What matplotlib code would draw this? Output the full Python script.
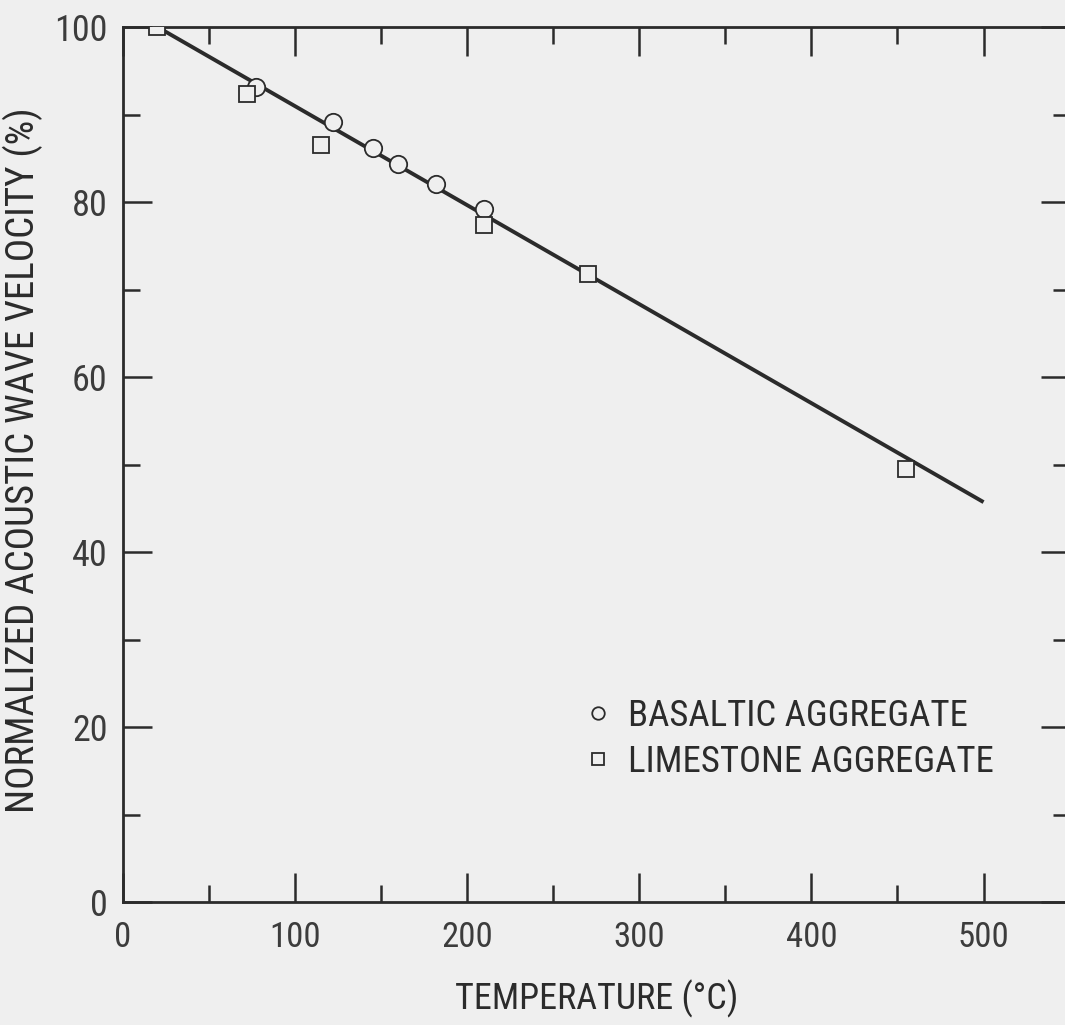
import matplotlib
matplotlib.use("Agg")
import matplotlib.pyplot as plt
from matplotlib import font_manager
from matplotlib.font_manager import FontProperties

# ---- data ----
basalt_temp = [77, 122, 145, 160, 182, 210]
basalt_vel = [93.2, 89.1, 86.2, 84.4, 82.1, 79.2]
lime_temp = [20, 72, 115, 210, 270, 455]
lime_vel = [100.0, 92.3, 86.5, 77.4, 71.8, 49.5]
fit_temp = [20, 500]
fit_vel = [100.0, 45.7]
x_ticks = [0, 100, 200, 300, 400, 500]
y_ticks = [0, 20, 40, 60, 80, 100]
x_minor = [50, 150, 250, 350, 450]
y_minor = [10, 30, 50, 70, 90]
labels = ["BASALTIC AGGREGATE", "LIMESTONE AGGREGATE"]


def pick_condensed():
    fl = font_manager.fontManager.ttflist
    prefs = ["Liberation Sans Narrow", "Roboto Condensed", "Open Sans Condensed",
             "Noto Sans Condensed", "DejaVu Sans Condensed"]
    for p in prefs:
        for f in fl:
            if f.name == p and f.weight in (400, "normal", "regular") and f.style == "normal":
                return f.fname
    for f in fl:
        if f.style != "normal":
            continue
        st = str(f.stretch)
        if ("Narrow" in f.name or "Condensed" in f.name or st in ("condensed", "semi-condensed")) \
                and "Serif" not in f.name and "Mono" not in f.name and "Bold" not in f.fname:
            return f.fname
    for f in fl:
        if "Condensed" in f.fname and "Bold" not in f.fname and "Oblique" not in f.fname \
                and "Serif" not in f.fname and "Mono" not in f.fname:
            return f.fname
    return None


cpath = pick_condensed()


def sans(size):
    if cpath:
        return FontProperties(fname=cpath, size=size)
    return FontProperties(family="DejaVu Sans", stretch="condensed", size=size)


BG = "#efefef"
INK = "#2b2b2b"
TICKC = "#3c3c3c"

fig = plt.figure(figsize=(10.65, 10.25), dpi=100, facecolor=BG)
ax = fig.add_axes([123 / 1065, 123 / 1025, 946.6 / 1065, 875 / 1025])
ax.set_facecolor(BG)

ax.plot(fit_temp, fit_vel, color=INK, lw=2.8, solid_capstyle="butt", zorder=2)
ax.plot(basalt_temp, basalt_vel, ls="none", marker="o", ms=12.5, mfc=BG,
        mec=INK, mew=1.3, zorder=3, label=labels[0])
ax.plot(lime_temp, lime_vel, ls="none", marker="s", ms=11.5, mfc=BG,
        mec=INK, mew=1.3, zorder=3, label=labels[1])

ax.set_xlim(0, 550)
ax.set_ylim(0, 100)

for s in ax.spines.values():
    s.set_color(INK)
    s.set_linewidth(2.0)

ax.set_xticks(x_ticks)
ax.set_yticks(y_ticks)
ax.set_xticks(x_minor, minor=True)
ax.set_yticks(y_minor, minor=True)
ax.tick_params(which="both", direction="in", top=True, right=True, color=INK, width=1.8)
ax.tick_params(which="major", length=21)
ax.tick_params(which="minor", length=12)
ax.tick_params(axis="x", which="major", labelcolor=TICKC, pad=14)
ax.tick_params(axis="y", which="major", labelcolor=TICKC, pad=11)

ax.set_xticklabels([str(v) for v in x_ticks], fontproperties=sans(25))
ax.set_yticklabels([str(v) for v in y_ticks], fontproperties=sans(26))
ax.get_xticklabels()[0].set_x(-4)

ax.set_xlabel("TEMPERATURE (°C)", fontproperties=sans(26), color=INK, labelpad=18)
ax.set_ylabel("NORMALIZED ACOUSTIC WAVE VELOCITY (%)", fontproperties=sans(28),
              color=INK)
ax.yaxis.set_label_coords(-0.084, 0.505)

leg = ax.legend(loc="upper left", bbox_to_anchor=(0.475, 0.25), frameon=False,
                prop=sans(26.5), markerscale=0.72,
                handlelength=0.6, handletextpad=0.5, labelspacing=0.28,
                borderaxespad=0)
for t in leg.get_texts():
    t.set_color(INK)

fig.savefig("out.png", dpi=100, facecolor=BG)
